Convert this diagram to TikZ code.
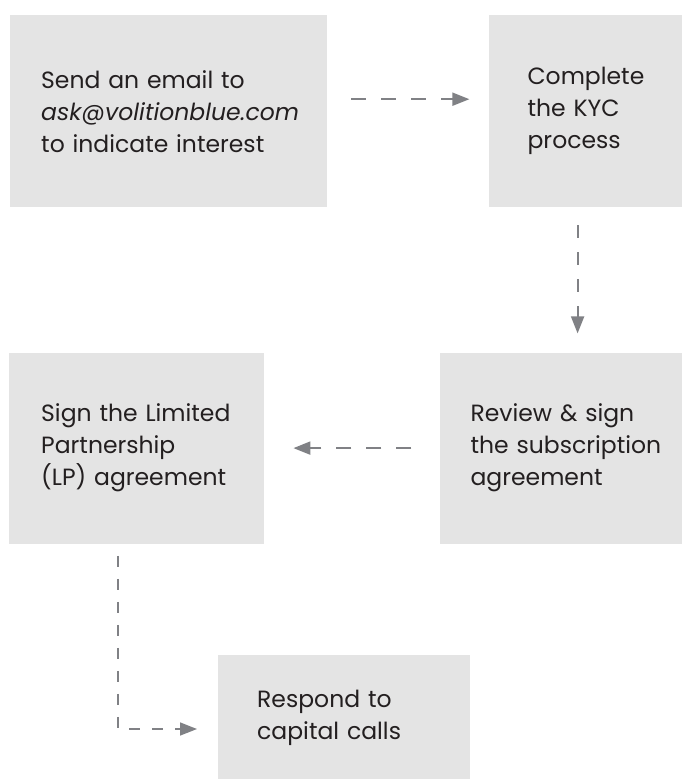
\documentclass[tikz,border=0pt]{standalone}
\usepackage{fontspec}
\setmainfont{Poppins}
\usepackage{tikz}
\usetikzlibrary{arrows.meta,
                positioning}
\definecolor{boxgray}{RGB}{228,228,228}
\definecolor{arrowgray}{RGB}{128,129,133}
\definecolor{ink}{RGB}{35,31,32}
\hyphenpenalty=10000
\newcommand{\stagefont}{\fontsize{23.5}{32}\selectfont}
\tikzset{stage/.style=
   {rectangle,
    fill=boxgray,
    text=ink,
    align=left,
    inner sep=0pt,
    font=\stagefont}}
\tikzset{flow/.style =
   {draw=arrowgray,
    line width=2pt,
    dash pattern=on 15pt off 15pt,
    -{Triangle[length=17pt,width=13pt]}}}

\begin{document}
\begin{tikzpicture}[x=1pt, y=-1pt]

    \useasboundingbox (0,0) rectangle (682,779);

    \node [stage,
           anchor=north west,
           minimum width=317pt,
           minimum height=192pt,
           text width=255pt] (email) at (10,15)
          {Send~an~email~to\\ \textit{ask@volitionblue.com}\\ to~indicate~interest};

    \node [stage,
           right=161pt of email,
           minimum width=194pt,
           minimum height=192pt,
           text width=116pt] (kyc)
          {Complete\\ the~KYC\\ process};

    \node [stage,
           below=145pt of kyc.south east,
           anchor=north east,
           minimum width=243pt,
           minimum height=191pt,
           text width=181pt] (review)
          {Review~\&~sign\\ \mbox{the~subscription}\\ agreement};

    \node [stage,
           left=175pt of review,
           minimum width=255pt,
           minimum height=191pt,
           text width=191pt] (lp)
          {Sign~the~Limited\\ Partnership\\ (LP)~agreement};

    \node [stage,
           below=111pt of lp.south west,
           anchor=north west,
           xshift=209pt,
           minimum width=252pt,
           minimum height=125pt,
           text width=174pt] (capital)
          {Respond~to\\ capital~calls};

    % connectors
    \draw [flow] ([xshift=24pt,yshift=12pt]email.east)
        -- ([xshift=-19pt,yshift=12pt]email.east -| kyc.west);
    \draw [flow, dash pattern=on 13pt off 14pt] ([xshift=-8pt,yshift=-18pt]kyc.south)
        -- ([xshift=-8pt,yshift=19pt]review.north -| kyc.south);
    \draw [flow] ([xshift=-28pt]review.west)
        -- ([xshift=29pt]lp.east);
    \draw [flow, line width=1.6pt, dash pattern=on 11pt off 12pt] ([xshift=-18.5pt,yshift=-12pt]lp.south)
        |- ([xshift=-21pt,yshift=-11.5pt]capital.west);

\end{tikzpicture}
\end{document}
